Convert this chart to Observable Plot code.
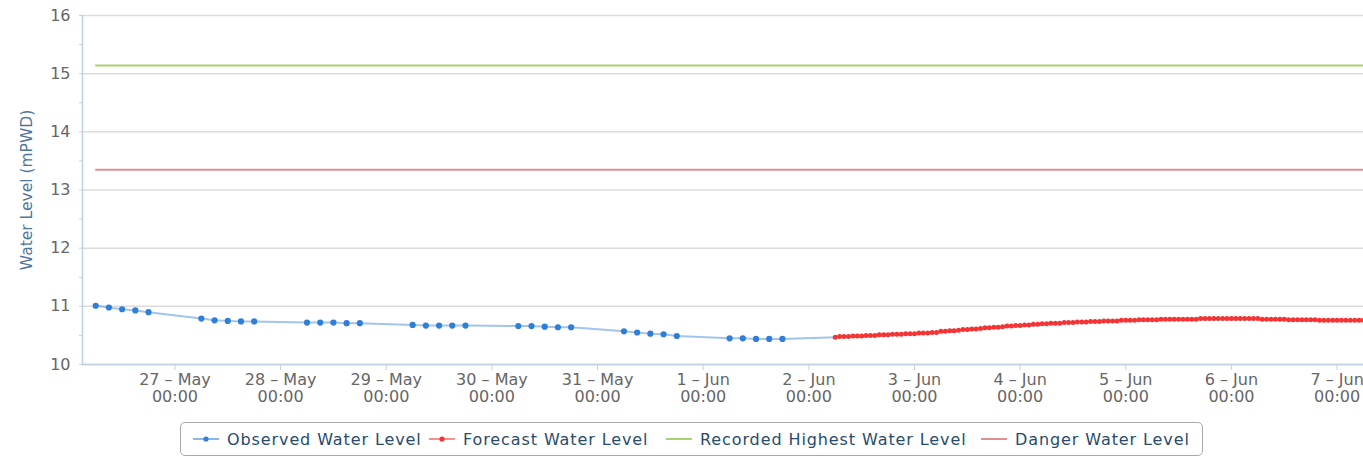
<!DOCTYPE html>
<html>
<head>
<meta charset="utf-8">
<script src="https://cdn.jsdelivr.net/npm/d3@7"></script>
<script src="https://cdn.jsdelivr.net/npm/@observablehq/plot@0.6"></script>
<style>
  html, body { margin: 0; padding: 0; background: #fff; }
  #wrap { position: relative; width: 1363px; height: 457px; overflow: hidden; font-family: "DejaVu Sans", sans-serif; }
  #legend { position: absolute; left: 180px; top: 422px; width: 1023px; height: 34px; box-sizing: border-box;
            border: 1px solid #a9a9a9; border-radius: 5px; background: #fff; }
  .item { position: absolute; top: 0; height: 32px; display: flex; align-items: center; font-size: 16px; letter-spacing: 0.9px; color: #274b6d; white-space: nowrap; }
  .item svg { margin-right: 8px; }
</style>
</head>
<body>
<div id="wrap"><div id="chart"></div><div id="legend"></div></div>
<script>
// ---- data ----
const YEAR = 2019;
const obsDays = ["05-26", "05-27", "05-28", "05-29", "05-30", "05-31", "06-01"];
const obsHours = [6, 9, 12, 15, 18];
const obsLevels = [
  11.01, 10.98, 10.95, 10.93, 10.90,
  10.79, 10.76, 10.75, 10.74, 10.74,
  10.72, 10.72, 10.72, 10.71, 10.71,
  10.68, 10.67, 10.67, 10.67, 10.67,
  10.66, 10.66, 10.65, 10.64, 10.64,
  10.57, 10.55, 10.53, 10.52, 10.49,
  10.45, 10.45, 10.44, 10.44, 10.44
];
const forecastStart = "2019-06-02T06:00Z";
const forecastLevels = [
  10.47, 10.48, 10.48, 10.48, 10.49, 10.49, 10.49, 10.50, 10.50, 10.50, 10.51, 10.51,
  10.51, 10.52, 10.52, 10.52, 10.53, 10.53, 10.53, 10.54, 10.54, 10.54, 10.55, 10.55,
  10.57, 10.57, 10.58, 10.58, 10.59, 10.60, 10.60, 10.61, 10.61, 10.62, 10.63, 10.63,
  10.64, 10.64, 10.65, 10.66, 10.66, 10.67, 10.67, 10.68, 10.68, 10.69, 10.69, 10.70,
  10.70, 10.71, 10.71, 10.71, 10.72, 10.72, 10.72, 10.73, 10.73, 10.73, 10.74, 10.74,
  10.74, 10.75, 10.75, 10.75, 10.75, 10.76, 10.76, 10.76, 10.76, 10.77, 10.77, 10.77,
  10.77, 10.77, 10.78, 10.78, 10.78, 10.78, 10.78, 10.78, 10.78, 10.78, 10.78, 10.79,
  10.79, 10.79, 10.79, 10.79, 10.79, 10.79, 10.79, 10.79, 10.79, 10.79, 10.79, 10.79,
  10.79, 10.78, 10.78, 10.78, 10.78, 10.78, 10.78, 10.77, 10.77, 10.77, 10.77, 10.77,
  10.77, 10.77, 10.76, 10.76, 10.76, 10.76, 10.76, 10.76, 10.76, 10.76, 10.76, 10.76,
  10.76
];
const thresholdNames = ["Recorded Highest Water Level", "Danger Water Level"];
const thresholdLevels = [15.14, 13.35];
const seriesNames = ["Observed Water Level", "Forecast Water Level"];
const yTicks = [10, 11, 12, 13, 14, 15, 16];
const yMinorTicks = [10.5, 11.5, 12.5, 13.5, 14.5, 15.5];
const xTickDays = ["05-27", "05-28", "05-29", "05-30", "05-31", "06-01", "06-02", "06-03", "06-04", "06-05", "06-06", "06-07"];
const monthNames = ["Jan","Feb","Mar","Apr","May","Jun","Jul","Aug","Sep","Oct","Nov","Dec"];
const yTitle = "Water Level (mPWD)";

// ---- styles ----
const colors = {obs: "#2f7ed8", fc: "#f43434", high: "#a9d16f", danger: "#df8f8f"};
const thresholdColors = [colors.high, colors.danger];

// ---- build tables ----
const xStart = new Date(`${YEAR}-05-26T03:00Z`);
const xEnd = new Date(`${YEAR}-06-07T06:00Z`);
const observed = [];
obsDays.forEach((d, i) => obsHours.forEach((h, j) => {
  observed.push({time: new Date(`${YEAR}-${d}T${String(h).padStart(2, "0")}:00Z`), level: obsLevels[i * obsHours.length + j]});
}));
const fc0 = new Date(forecastStart);
const forecast = forecastLevels.map((v, i) => ({time: d3.utcHour.offset(fc0, i), level: v}));
const observedLine = observed.concat([{time: fc0, level: forecastLevels[0]}]);
const thresholds = thresholdNames.map((n, i) => ({name: n, level: thresholdLevels[i], color: thresholdColors[i], from: observed[0].time, to: xEnd}));
const xTicks = xTickDays.map(d => new Date(`${YEAR}-${d}T00:00Z`));

const axisColor = "#c0d0e0";
const labelColor = "#666666";

const chart = Plot.plot({
  width: 1363, height: 415,
  marginLeft: 82, marginRight: 0, marginTop: 15, marginBottom: 51,
  style: {fontFamily: "DejaVu Sans, sans-serif", fontSize: "16px", color: labelColor, background: "white", overflow: "visible"},
  x: {type: "utc", domain: [xStart, xEnd]},
  y: {domain: [10, 16]},
  marks: [
    Plot.gridY(yTicks, {stroke: "#dcdcdc", strokeOpacity: 1, strokeWidth: 1.5}),
    Plot.axisY(yMinorTicks, {tickSize: 3, tickFormat: () => "", stroke: axisColor, strokeOpacity: 1, label: null}),
    Plot.axisY(yTicks, {tickSize: 3, tickPadding: 9, stroke: axisColor, strokeOpacity: 1, fill: labelColor, fontSize: 16, label: null, tickFormat: d => String(d)}),
    Plot.ruleX([xStart], {stroke: axisColor, strokeWidth: 1.5}),
    Plot.ruleY([10], {stroke: axisColor, strokeWidth: 1.5}),
    Plot.axisX(xTicks, {
      tickSize: 6, tickPadding: 2, stroke: axisColor, strokeOpacity: 1, fill: labelColor, fontSize: 16, lineHeight: 1.08, label: null,
      tickFormat: d => `${d.getUTCDate()} – ${monthNames[d.getUTCMonth()]}\n00:00`
    }),
    Plot.text([yTitle], {frameAnchor: "left", textAnchor: "middle", dx: -55, rotate: -90, fill: "#4d759e", fontSize: 15.5}),
    Plot.ruleY(thresholds, {y: "level", x1: "from", x2: "to", stroke: "color", strokeWidth: 2}),
    Plot.line(observedLine, {x: "time", y: "level", stroke: colors.obs, strokeOpacity: 0.45, strokeWidth: 2}),
    Plot.dot(observed, {x: "time", y: "level", r: 3.1, fill: colors.obs}),
    Plot.line(forecast, {x: "time", y: "level", stroke: colors.fc, strokeOpacity: 0.5, strokeWidth: 2}),
    Plot.dot(forecast, {x: "time", y: "level", r: 2.5, fill: colors.fc})
  ]
});
document.getElementById("chart").appendChild(chart);

// ---- legend ----
const legendItems = [
  {name: seriesNames[0], color: colors.obs, marker: true, left: 12},
  {name: seriesNames[1], color: colors.fc, marker: true, left: 248},
  {name: thresholdNames[0], color: colors.high, marker: false, left: 485},
  {name: thresholdNames[1], color: colors.danger, marker: false, left: 800}
];
const legend = document.getElementById("legend");
legendItems.forEach(it => {
  const div = document.createElement("div");
  div.className = "item";
  div.style.left = it.left + "px";
  div.innerHTML = `<svg width="26" height="10"><line x1="0" x2="26" y1="5" y2="5" stroke="${it.color}" stroke-width="2" stroke-opacity="${it.marker ? 0.55 : 1}"/>${it.marker ? `<circle cx="13" cy="5" r="2.6" fill="${it.color}"/>` : ""}</svg><span>${it.name}</span>`;
  legend.appendChild(div);
});
</script>
</body>
</html>
